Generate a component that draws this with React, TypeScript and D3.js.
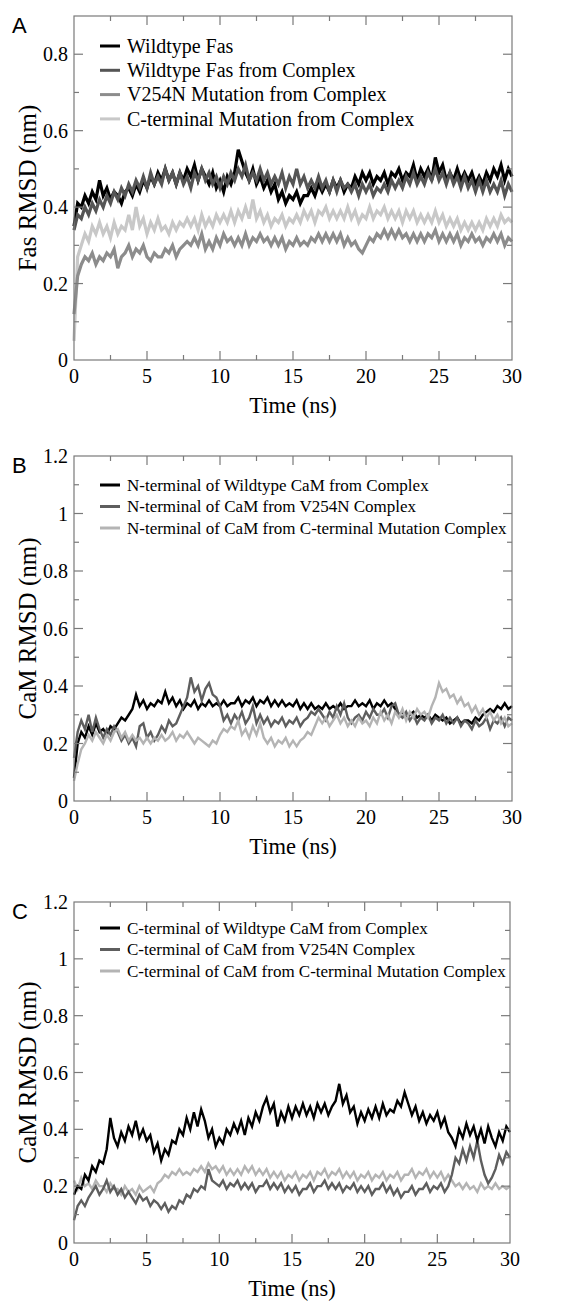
import React from 'react';
import * as d3 from 'd3';

// time axis: 0 to 30 ns, one reading every 0.25 ns
const STEP = 0.25;

// Panel A - Fas RMSD (nm)
const wildtypeFas = [
  0.35, 0.41, 0.40, 0.43, 0.41, 0.44, 0.42, 0.47, 0.43, 0.45, 0.42, 0.44,
  0.43, 0.41, 0.44, 0.45, 0.43, 0.46, 0.44, 0.47, 0.45, 0.48, 0.46, 0.49,
  0.47, 0.50, 0.47, 0.49, 0.46, 0.49, 0.47, 0.50, 0.48, 0.51, 0.47, 0.50,
  0.48, 0.46, 0.49, 0.45, 0.47, 0.44, 0.48, 0.46, 0.49, 0.55, 0.52, 0.49,
  0.47, 0.50, 0.46, 0.48, 0.45, 0.47, 0.44, 0.46, 0.42, 0.44, 0.41, 0.43,
  0.42, 0.44, 0.41, 0.43, 0.43, 0.45, 0.43, 0.46, 0.44, 0.46, 0.44, 0.47,
  0.45, 0.47, 0.44, 0.46, 0.45, 0.48, 0.46, 0.49, 0.47, 0.49, 0.46, 0.48,
  0.47, 0.49, 0.46, 0.49, 0.48, 0.50, 0.47, 0.49, 0.48, 0.51, 0.47, 0.50,
  0.48, 0.50, 0.47, 0.53, 0.49, 0.51, 0.47, 0.49, 0.47, 0.50, 0.47, 0.49,
  0.47, 0.49, 0.46, 0.48, 0.46, 0.49, 0.47, 0.50, 0.48, 0.51, 0.47, 0.50,
  0.48,
];
const wildtypeFasComplex = [
  0.34, 0.38, 0.37, 0.40, 0.38, 0.41, 0.39, 0.42, 0.40, 0.43, 0.41, 0.44,
  0.42, 0.45, 0.43, 0.46, 0.44, 0.47, 0.45, 0.48, 0.45, 0.49, 0.46, 0.48,
  0.46, 0.50, 0.47, 0.49, 0.46, 0.49, 0.46, 0.48, 0.45, 0.49, 0.47, 0.50,
  0.47, 0.49, 0.46, 0.48, 0.45, 0.48, 0.46, 0.49, 0.47, 0.50, 0.48, 0.51,
  0.47, 0.49, 0.47, 0.50, 0.47, 0.49, 0.46, 0.48, 0.46, 0.49, 0.45, 0.48,
  0.46, 0.50, 0.46, 0.48, 0.45, 0.47, 0.45, 0.48, 0.45, 0.47, 0.44, 0.47,
  0.44, 0.47, 0.45, 0.46, 0.44, 0.46, 0.43, 0.46, 0.44, 0.46, 0.43, 0.45,
  0.44, 0.46, 0.44, 0.47, 0.45, 0.47, 0.45, 0.48, 0.46, 0.49, 0.46, 0.48,
  0.46, 0.49, 0.47, 0.50, 0.47, 0.49, 0.46, 0.49, 0.46, 0.48, 0.45, 0.48,
  0.45, 0.47, 0.44, 0.47, 0.44, 0.47, 0.44, 0.46, 0.44, 0.47, 0.43, 0.46,
  0.44,
];
const v254nFas = [
  0.12, 0.22, 0.25, 0.27, 0.26, 0.28, 0.25, 0.27, 0.26, 0.28, 0.27, 0.29,
  0.24, 0.27, 0.28, 0.30, 0.27, 0.29, 0.28, 0.30, 0.27, 0.26, 0.28, 0.27,
  0.27, 0.29, 0.28, 0.30, 0.27, 0.29, 0.30, 0.31, 0.30, 0.32, 0.30, 0.33,
  0.29, 0.31, 0.29, 0.32, 0.30, 0.33, 0.31, 0.32, 0.30, 0.32, 0.30, 0.33,
  0.30, 0.32, 0.31, 0.33, 0.31, 0.32, 0.30, 0.32, 0.30, 0.32, 0.29, 0.31,
  0.30, 0.32, 0.30, 0.31, 0.30, 0.32, 0.31, 0.33, 0.31, 0.33, 0.31, 0.33,
  0.31, 0.33, 0.30, 0.32, 0.30, 0.31, 0.29, 0.28, 0.30, 0.32, 0.31, 0.33,
  0.32, 0.34, 0.32, 0.34, 0.32, 0.34, 0.32, 0.33, 0.31, 0.33, 0.31, 0.33,
  0.31, 0.33, 0.32, 0.34, 0.31, 0.33, 0.31, 0.33, 0.31, 0.33, 0.30, 0.32,
  0.31, 0.33, 0.31, 0.32, 0.30, 0.32, 0.31, 0.33, 0.31, 0.33, 0.30, 0.32,
  0.31,
];
const cTermFas = [
  0.05, 0.27, 0.30, 0.33, 0.31, 0.35, 0.33, 0.36, 0.33, 0.35, 0.32, 0.36,
  0.33, 0.35, 0.34, 0.38, 0.34, 0.40, 0.35, 0.37, 0.33, 0.36, 0.34, 0.37,
  0.34, 0.35, 0.33, 0.36, 0.34, 0.36, 0.35, 0.37, 0.35, 0.37, 0.34, 0.38,
  0.35, 0.37, 0.35, 0.38, 0.36, 0.38, 0.36, 0.39, 0.36, 0.39, 0.37, 0.40,
  0.37, 0.42, 0.37, 0.39, 0.36, 0.38, 0.35, 0.37, 0.36, 0.38, 0.35, 0.37,
  0.36, 0.38, 0.36, 0.39, 0.37, 0.39, 0.36, 0.39, 0.38, 0.40, 0.37, 0.39,
  0.37, 0.39, 0.37, 0.40, 0.37, 0.39, 0.36, 0.38, 0.37, 0.40, 0.37, 0.39,
  0.38, 0.40, 0.37, 0.39, 0.37, 0.39, 0.36, 0.39, 0.37, 0.39, 0.36, 0.38,
  0.36, 0.38, 0.36, 0.39, 0.36, 0.38, 0.35, 0.37, 0.35, 0.37, 0.34, 0.36,
  0.34, 0.36, 0.34, 0.36, 0.34, 0.37, 0.35, 0.37, 0.35, 0.38, 0.36, 0.37,
  0.36,
];

// Panel B - N-terminal CaM RMSD (nm)
const nTermWildtype = [
  0.08, 0.20, 0.24, 0.22, 0.26, 0.23, 0.27, 0.24, 0.25, 0.23, 0.26, 0.25,
  0.27, 0.29, 0.28, 0.30, 0.32, 0.37, 0.33, 0.35, 0.32, 0.34, 0.33, 0.35,
  0.34, 0.38, 0.34, 0.36, 0.33, 0.35, 0.32, 0.34, 0.33, 0.35, 0.32, 0.34,
  0.33, 0.35, 0.33, 0.34, 0.33, 0.35, 0.33, 0.34, 0.34, 0.36, 0.33, 0.35,
  0.34, 0.36, 0.33, 0.35, 0.34, 0.36, 0.33, 0.35, 0.33, 0.35, 0.33, 0.34,
  0.33, 0.35, 0.32, 0.34, 0.32, 0.34, 0.32, 0.33, 0.32, 0.34, 0.32, 0.33,
  0.32, 0.34, 0.32, 0.33, 0.33, 0.35, 0.33, 0.34, 0.33, 0.35, 0.32, 0.34,
  0.33, 0.35, 0.33, 0.34, 0.32, 0.30, 0.31, 0.29, 0.30, 0.31, 0.29, 0.30,
  0.29, 0.30, 0.28, 0.30, 0.29, 0.28, 0.29, 0.27, 0.28, 0.29, 0.27, 0.28,
  0.28, 0.27, 0.29, 0.28, 0.30, 0.31, 0.32, 0.31, 0.33, 0.32, 0.34, 0.32,
  0.33,
];
const nTermV254n = [
  0.15, 0.24, 0.28, 0.25, 0.30, 0.24, 0.29, 0.25, 0.22, 0.25, 0.23, 0.26,
  0.24, 0.21, 0.23, 0.20, 0.22, 0.19, 0.26, 0.27, 0.22, 0.24, 0.21, 0.23,
  0.26, 0.24, 0.28, 0.26, 0.27, 0.30, 0.33, 0.36, 0.43, 0.38, 0.40, 0.35,
  0.39, 0.41, 0.37, 0.36, 0.33, 0.28, 0.30, 0.27, 0.30, 0.28, 0.31, 0.27,
  0.29, 0.33, 0.27, 0.30, 0.27, 0.29, 0.26, 0.28, 0.27, 0.29, 0.26, 0.28,
  0.27, 0.29, 0.26, 0.28, 0.29, 0.31, 0.30, 0.32, 0.30, 0.28, 0.31, 0.29,
  0.33, 0.30, 0.34, 0.29, 0.27, 0.29, 0.30, 0.28, 0.31, 0.29, 0.32, 0.30,
  0.30, 0.32, 0.29, 0.33, 0.34, 0.30, 0.29, 0.31, 0.28, 0.30, 0.27, 0.29,
  0.28, 0.30, 0.27, 0.29, 0.28, 0.30, 0.27, 0.29, 0.27, 0.29, 0.26, 0.28,
  0.27, 0.25, 0.28, 0.26, 0.27, 0.29, 0.25, 0.28, 0.27, 0.29, 0.26, 0.29,
  0.28,
];
const nTermCTermMut = [
  0.07, 0.13, 0.18, 0.20, 0.23, 0.21, 0.24, 0.22, 0.20, 0.23, 0.21, 0.24,
  0.25, 0.22, 0.24, 0.21, 0.23, 0.21, 0.22, 0.20, 0.22, 0.20, 0.22, 0.21,
  0.23, 0.21, 0.22, 0.24, 0.21, 0.23, 0.22, 0.24, 0.22, 0.20, 0.22, 0.21,
  0.20, 0.19, 0.21, 0.20, 0.23, 0.25, 0.24, 0.26, 0.25, 0.28, 0.23, 0.25,
  0.22, 0.26, 0.23, 0.27, 0.22, 0.20, 0.22, 0.19, 0.21, 0.20, 0.22, 0.19,
  0.21, 0.19, 0.21, 0.22, 0.24, 0.23, 0.26, 0.29, 0.27, 0.29, 0.26, 0.28,
  0.30, 0.27, 0.29, 0.26, 0.28, 0.26, 0.29, 0.27, 0.28, 0.26, 0.29, 0.27,
  0.31, 0.28, 0.30, 0.27, 0.31, 0.29, 0.32, 0.28, 0.31, 0.29, 0.32, 0.30,
  0.31, 0.29, 0.33, 0.36, 0.41, 0.38, 0.39, 0.36, 0.37, 0.34, 0.36, 0.33,
  0.34, 0.31, 0.33, 0.30, 0.32, 0.29, 0.31, 0.28, 0.30, 0.27, 0.29, 0.26,
  0.27,
];

// Panel C - C-terminal CaM RMSD (nm)
const cTermWildtype = [
  0.17, 0.20, 0.19, 0.24, 0.22, 0.27, 0.25, 0.29, 0.28, 0.33, 0.44, 0.37,
  0.34, 0.39, 0.36, 0.41, 0.38, 0.43, 0.37, 0.40, 0.36, 0.38, 0.32, 0.35,
  0.29, 0.33, 0.31, 0.36, 0.35, 0.40, 0.38, 0.44, 0.40, 0.46, 0.41, 0.47,
  0.43, 0.37, 0.40, 0.34, 0.37, 0.35, 0.40, 0.38, 0.42, 0.39, 0.43, 0.38,
  0.44, 0.41, 0.46, 0.43, 0.48, 0.51, 0.46, 0.49, 0.41, 0.46, 0.43, 0.48,
  0.44, 0.48, 0.45, 0.49, 0.45, 0.48, 0.44, 0.49, 0.46, 0.49, 0.45, 0.48,
  0.50, 0.56, 0.49, 0.52, 0.46, 0.48, 0.42, 0.46, 0.43, 0.47, 0.44, 0.48,
  0.44, 0.49, 0.45, 0.47, 0.46, 0.50, 0.48, 0.53, 0.49, 0.45, 0.48, 0.43,
  0.46, 0.42, 0.45, 0.43, 0.46, 0.41, 0.44, 0.39, 0.37, 0.34, 0.40, 0.37,
  0.42, 0.38, 0.41, 0.36, 0.40, 0.35, 0.41, 0.37, 0.34, 0.39, 0.36, 0.41,
  0.39,
];
const cTermV254n = [
  0.08, 0.13, 0.15, 0.13, 0.16, 0.18, 0.20, 0.17, 0.19, 0.22, 0.18, 0.20,
  0.17, 0.19, 0.16, 0.18, 0.16, 0.14, 0.17, 0.15, 0.16, 0.13, 0.15, 0.14,
  0.12, 0.14, 0.11, 0.13, 0.12, 0.15, 0.14, 0.17, 0.16, 0.19, 0.18, 0.20,
  0.19, 0.26, 0.22, 0.21, 0.20, 0.22, 0.19, 0.21, 0.20, 0.22, 0.19, 0.21,
  0.19, 0.21, 0.18, 0.20, 0.20, 0.22, 0.19, 0.21, 0.19, 0.21, 0.18, 0.20,
  0.18, 0.20, 0.17, 0.19, 0.19, 0.21, 0.18, 0.20, 0.20, 0.22, 0.19, 0.21,
  0.19, 0.21, 0.18, 0.20, 0.19, 0.21, 0.18, 0.20, 0.18, 0.20, 0.17, 0.19,
  0.19, 0.21, 0.18, 0.20, 0.17, 0.19, 0.16, 0.18, 0.18, 0.20, 0.17, 0.19,
  0.19, 0.21, 0.18, 0.20, 0.19, 0.21, 0.18, 0.20, 0.24, 0.30, 0.28, 0.33,
  0.29, 0.34, 0.30, 0.36, 0.29, 0.24, 0.21, 0.23, 0.26, 0.31, 0.28, 0.32,
  0.30,
];
const cTermCTermMut = [
  0.22, 0.19, 0.23, 0.20, 0.21, 0.19, 0.22, 0.20, 0.20, 0.18, 0.21, 0.19,
  0.19, 0.17, 0.20, 0.18, 0.19, 0.17, 0.20, 0.18, 0.19, 0.20, 0.18, 0.21,
  0.22, 0.24, 0.23, 0.25, 0.24, 0.26, 0.24, 0.25, 0.24, 0.26, 0.25, 0.27,
  0.25, 0.28, 0.26, 0.27, 0.25, 0.27, 0.24, 0.26, 0.24, 0.26, 0.24, 0.27,
  0.25, 0.27, 0.24, 0.26, 0.24, 0.26, 0.23, 0.25, 0.23, 0.25, 0.22, 0.24,
  0.23, 0.25, 0.22, 0.24, 0.23, 0.25, 0.22, 0.25, 0.24, 0.26, 0.23, 0.25,
  0.24, 0.26, 0.23, 0.25, 0.23, 0.25, 0.22, 0.24, 0.23, 0.25, 0.22, 0.24,
  0.23, 0.25, 0.22, 0.24, 0.23, 0.25, 0.22, 0.24, 0.24, 0.26, 0.23, 0.25,
  0.24, 0.26, 0.23, 0.25, 0.23, 0.25, 0.22, 0.24, 0.22, 0.20, 0.21, 0.19,
  0.21, 0.19, 0.20, 0.18, 0.21, 0.19, 0.20, 0.19, 0.21, 0.19, 0.20, 0.19,
  0.20,
];

const legendA = [
  'Wildtype Fas',
  'Wildtype Fas from Complex',
  'V254N Mutation from Complex',
  'C-terminal Mutation from Complex',
];
const legendB = [
  'N-terminal of Wildtype CaM from Complex',
  'N-terminal of CaM from V254N Complex',
  'N-terminal of CaM from C-terminal Mutation Complex',
];
const legendC = [
  'C-terminal of Wildtype CaM from Complex',
  'C-terminal of CaM from V254N Complex',
  'C-terminal of CaM from C-terminal Mutation Complex',
];
const xTicks = [0, 5, 10, 15, 20, 25, 30];

const serif = '"Liberation Serif", "DejaVu Serif", serif';
const frameColor = '#7a7a7a';

type Series = { name: string; values: number[]; color: string; width: number; order: number };

type PanelProps = {
  letter: string;
  top: number;
  bottom: number;
  left: number;
  right: number;
  yMax: number;
  yTicks: number[];
  yLabel: string;
  series: Series[];
  legendTop: number;
  legendGap: number;
  legendSize: number;
};

function Panel(p: PanelProps) {
  const x = d3.scaleLinear().domain([0, 30]).range([p.left, p.right]);
  const y = d3.scaleLinear().domain([0, p.yMax]).range([p.bottom, p.top]);
  const line = d3
    .line<number>()
    .x((_, i) => x(i * STEP))
    .y((d) => y(d));

  const xMinor = d3.range(2.5, 30, 5);
  const yMinor = d3.range(0.1, p.yMax, 0.2).filter((v) => v < p.yMax - 1e-6);
  const drawOrder = [...p.series].sort((a, b) => a.order - b.order);

  return (
    <g>
      <text x={12} y={p.top + 17} fontFamily='"Liberation Sans", Arial, sans-serif' fontSize={22}>
        {p.letter}
      </text>

      {drawOrder.map((s) => (
        <path key={s.name} d={line(s.values) || ''} fill='none' stroke={s.color}
          strokeWidth={s.width} strokeLinejoin='miter' />
      ))}

      <rect x={p.left} y={p.top} width={p.right - p.left} height={p.bottom - p.top}
        fill='none' stroke={frameColor} strokeWidth={1.2} />

      {/* ticks on all four sides, pointing in */}
      <g stroke={frameColor} strokeWidth={1.2}>
        {xTicks.slice(1, -1).map((t) => (
          <g key={'xt' + t}>
            <line x1={x(t)} x2={x(t)} y1={p.bottom} y2={p.bottom - 9} />
            <line x1={x(t)} x2={x(t)} y1={p.top} y2={p.top + 9} />
          </g>
        ))}
        {xMinor.map((t) => (
          <g key={'xm' + t}>
            <line x1={x(t)} x2={x(t)} y1={p.bottom} y2={p.bottom - 5} />
            <line x1={x(t)} x2={x(t)} y1={p.top} y2={p.top + 5} />
          </g>
        ))}
        {p.yTicks.filter((v) => v > 0 && v < p.yMax).map((v) => (
          <g key={'yt' + v}>
            <line x1={p.left} x2={p.left + 9} y1={y(v)} y2={y(v)} />
            <line x1={p.right} x2={p.right - 9} y1={y(v)} y2={y(v)} />
          </g>
        ))}
        {yMinor.map((v) => (
          <g key={'ym' + v}>
            <line x1={p.left} x2={p.left + 5} y1={y(v)} y2={y(v)} />
            <line x1={p.right} x2={p.right - 5} y1={y(v)} y2={y(v)} />
          </g>
        ))}
      </g>

      <g fontFamily={serif} fontSize={20} fill='#000'>
        {p.yTicks.map((v) => (
          <text key={'yl' + v} x={p.left - 6} y={y(v)} dy='0.35em' textAnchor='end'>
            {d3.format('~g')(v)}
          </text>
        ))}
        {xTicks.map((t) => (
          <text key={'xl' + t} x={x(t)} y={p.bottom + 23} textAnchor='middle'>
            {t}
          </text>
        ))}
        <text x={(p.left + p.right) / 2} y={p.bottom + 53} textAnchor='middle' fontSize={22.5}>
          Time (ns)
        </text>
        <text transform={`translate(36, ${(p.top + p.bottom) / 2}) rotate(-90)`}
          textAnchor='middle' fontSize={25}>
          {p.yLabel}
        </text>
      </g>

      <g fontFamily={serif} fontSize={p.legendSize}>
        {p.series.map((s, i) => {
          const ly = p.legendTop + i * p.legendGap;
          return (
            <g key={'lg' + s.name}>
              <line x1={100} x2={120} y1={ly} y2={ly} stroke={s.color} strokeWidth={3} />
              <text x={127} y={ly} dy='0.33em'>{s.name}</text>
            </g>
          );
        })}
      </g>
    </g>
  );
}

export default function App() {
  const panelA: Series[] = [
    { name: legendA[0], values: wildtypeFas, color: '#000000', width: 3.2, order: 2 },
    { name: legendA[1], values: wildtypeFasComplex, color: '#555555', width: 3.2, order: 3 },
    { name: legendA[2], values: v254nFas, color: '#8c8c8c', width: 3.2, order: 1 },
    { name: legendA[3], values: cTermFas, color: '#c8c8c8', width: 3.2, order: 0 },
  ];
  const panelB: Series[] = [
    { name: legendB[0], values: nTermWildtype, color: '#000000', width: 2.4, order: 0 },
    { name: legendB[1], values: nTermV254n, color: '#5e5e5e', width: 2.4, order: 1 },
    { name: legendB[2], values: nTermCTermMut, color: '#b4b4b4', width: 2.4, order: 2 },
  ];
  const panelC: Series[] = [
    { name: legendC[0], values: cTermWildtype, color: '#000000', width: 2.4, order: 2 },
    { name: legendC[1], values: cTermV254n, color: '#5e5e5e', width: 2.4, order: 1 },
    { name: legendC[2], values: cTermCTermMut, color: '#b4b4b4', width: 2.4, order: 0 },
  ];

  return (
    <svg width={587} height={1302} style={{ position: 'absolute', left: 0, top: 0, background: '#fff' }}>
      <rect width={587} height={1302} fill='#fff' />
      <Panel letter='A' top={16} bottom={360} left={74} right={512} yMax={0.9}
        yTicks={[0, 0.2, 0.4, 0.6, 0.8]} yLabel='Fas RMSD (nm)' series={panelA}
        legendTop={46} legendGap={24.3} legendSize={20} />
      <Panel letter='B' top={456} bottom={801} left={74} right={512} yMax={1.2}
        yTicks={[0, 0.2, 0.4, 0.6, 0.8, 1, 1.2]} yLabel='CaM RMSD (nm)' series={panelB}
        legendTop={485} legendGap={21.5} legendSize={17} />
      <Panel letter='C' top={902} bottom={1243} left={74} right={510} yMax={1.2}
        yTicks={[0, 0.2, 0.4, 0.6, 0.8, 1, 1.2]} yLabel='CaM RMSD (nm)' series={panelC}
        legendTop={928} legendGap={21.5} legendSize={17} />
    </svg>
  );
}
